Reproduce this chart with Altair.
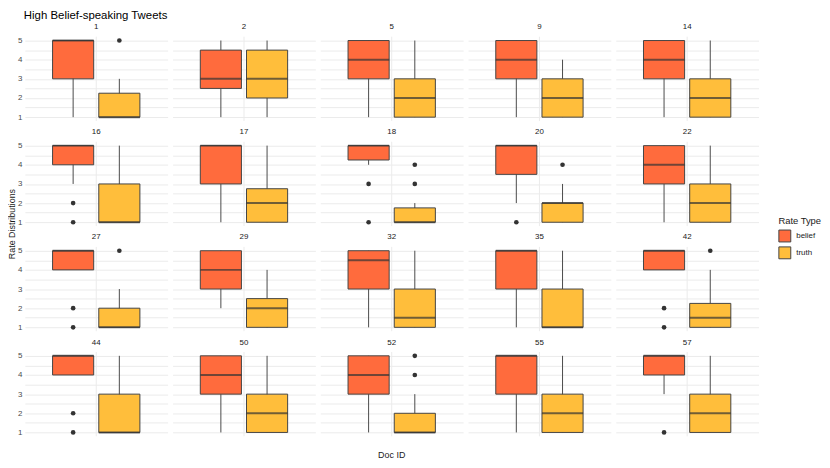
import altair as alt
import pandas as pd
import numpy as np

docs = [1, 2, 5, 9, 14, 16, 17, 18, 20, 22, 27, 29, 32, 35, 42, 44, 50, 52, 55, 57]

# box stats: (lower whisker, q1, median, q3, upper whisker)
belief_stats = [
    (1, 3, 5, 5, 5), (1, 2.5, 3, 4.5, 5), (1, 3, 4, 5, 5), (1, 3, 4, 5, 5), (1, 3, 4, 5, 5),
    (3, 4, 5, 5, 5), (1, 3, 5, 5, 5), (4, 4.25, 5, 5, 5), (2, 3.5, 5, 5, 5), (1, 3, 4, 5, 5),
    (4, 4, 5, 5, 5), (2, 3, 4, 5, 5), (1, 3, 4.5, 5, 5), (1, 3, 5, 5, 5), (4, 4, 5, 5, 5),
    (4, 4, 5, 5, 5), (1, 3, 4, 5, 5), (1, 3, 4, 5, 5), (1, 3, 5, 5, 5), (3, 4, 5, 5, 5),
]
truth_stats = [
    (1, 1, 1, 2.25, 3), (1, 2, 3, 4.5, 5), (1, 1, 2, 3, 5), (1, 1, 2, 3, 4), (1, 1, 2, 3, 5),
    (1, 1, 1, 3, 5), (1, 1, 2, 2.75, 5), (1, 1, 1, 1.75, 2), (1, 1, 2, 2, 3), (1, 1, 2, 3, 5),
    (1, 1, 1, 2, 3), (1, 1, 2, 2.5, 4), (1, 1, 1.5, 3, 5), (1, 1, 1, 3, 5), (1, 1, 1.5, 2.25, 4),
    (1, 1, 1, 3, 5), (1, 1, 2, 3, 5), (1, 1, 1, 2, 3), (1, 1, 2, 3, 5), (1, 1, 2, 3, 5),
]
belief_outliers = {16: [2, 1], 18: [3, 1], 20: [1], 27: [2, 1], 42: [2, 1], 44: [2, 1], 57: [1]}
truth_outliers = {1: [5], 18: [4, 3], 20: [4], 27: [5], 42: [5], 52: [5, 4]}

types = ["belief", "truth"]
colors = ["#FF6B3D", "#FFBE3B"]
y_title = ["Rate Distributions"]

rows = []
for d, bs, ts in zip(docs, belief_stats, truth_stats):
    for t, s in (("belief", bs), ("truth", ts)):
        rows.append(dict(doc=d, type=t, kind="stats", lo=s[0], q1=s[1], med=s[2], q3=s[3], hi=s[4], out=np.nan))
for t, od in (("belief", belief_outliers), ("truth", truth_outliers)):
    for d, vals in od.items():
        for v in vals:
            rows.append(dict(doc=d, type=t, kind="out", lo=np.nan, q1=np.nan, med=np.nan, q3=np.nan, hi=np.nan, out=v))
df = pd.DataFrame(rows)

W, H = 144, 85
P_IN, P_OUT = 0.11, 0.6
step = W / (2 - P_IN + 2 * P_OUT)
bw = step * (1 - P_IN)

xscale = alt.Scale(domain=types, paddingInner=P_IN, paddingOuter=P_OUT)
yscale = alt.Scale(domain=[0.8, 5.2], nice=False, zero=False)
yaxis = alt.Axis(values=[1, 1.5, 2, 2.5, 3, 3.5, 4, 4.5, 5],
                 labelExpr="datum.value % 1 == 0 ? format(datum.value, 'd') : ''",
                 title=None, ticks=False, domain=False,
                 gridColor="#EBEBEB", gridWidth=1, labelColor="#4D4D4D", labelFontSize=8,
                 labelPadding=3)

base = alt.Chart()

vgrid = base.transform_filter("datum.kind == 'stats' && datum.type == 'belief'").mark_rule(
    color="#EBEBEB", strokeWidth=1).encode(x=alt.value(W / 2), y=alt.value(0), y2=alt.value(H))

stats = base.transform_filter("datum.kind == 'stats'")
whisk = stats.mark_rule(color="#4a4a4a", strokeWidth=1).encode(
    x=alt.X("type:N", scale=xscale, axis=None),
    y=alt.Y("lo:Q", scale=yscale, axis=yaxis),
    y2="hi:Q",
)
box = stats.mark_bar(stroke="#444444", strokeWidth=1, size=bw).encode(
    x=alt.X("type:N", scale=xscale, axis=None),
    y=alt.Y("q1:Q", scale=yscale, axis=yaxis),
    y2="q3:Q",
    fill=alt.Fill("type:N", scale=alt.Scale(domain=types, range=colors),
                  legend=alt.Legend(title="Rate Type", orient="none", legendX=776, legendY=181,
                                    padding=0, symbolType="square", symbolSize=144,
                                    symbolStrokeColor="#444444",
                                    symbolStrokeWidth=1, titleFontSize=9.5, titleFontWeight="normal",
                                    titlePadding=4, rowPadding=0, labelOffset=5,
                                    labelFontSize=8, titleColor="#1a1a1a", labelColor="#1a1a1a")),
)
med = stats.mark_tick(color="#333333", thickness=2, size=bw).encode(
    x=alt.X("type:N", scale=xscale, axis=None),
    y=alt.Y("med:Q", scale=yscale, axis=yaxis),
)
outl = base.transform_filter("datum.kind == 'out'").mark_circle(color="#333333", opacity=1, size=22).encode(
    x=alt.X("type:N", scale=xscale, axis=None),
    y=alt.Y("out:Q", scale=yscale, axis=yaxis),
)

layer = alt.layer(vgrid, whisk, box, med, outl).properties(width=W, height=H)

facet = layer.facet(
    facet=alt.Facet("doc:O", sort=docs,
                    title="Doc ID",
                    header=alt.Header(labelOrient="top", titleOrient="bottom", labelFontSize=8,
                                      labelColor="#1a1a1a", labelPadding=5, titleFontSize=9,
                                      titleFontWeight="normal", titleColor="#1a1a1a", titlePadding=14)),
    columns=5,
    data=df,
    spacing={"column": 5, "row": 6},
)

ytitle = alt.Chart(pd.DataFrame({"t": y_title})).mark_text(
    angle=270, fontSize=9, color="#1a1a1a", baseline="middle", align="center").encode(
    text="t:N", x=alt.value(3), y=alt.value(189)).properties(width=7, height=420)

chart = alt.hconcat(ytitle, facet, spacing=0).properties(
    title=alt.TitleParams("High Belief-speaking Tweets", anchor="start", fontSize=11.5,
                          fontWeight="normal", color="#000000", offset=2, dx=16),
    padding={"left": 0, "top": 0, "right": 0, "bottom": 0},
).configure(font="Liberation Sans", view=alt.ViewConfig(stroke=None))

chart.save("out.html", embed_options={"renderer": "svg", "actions": False})
